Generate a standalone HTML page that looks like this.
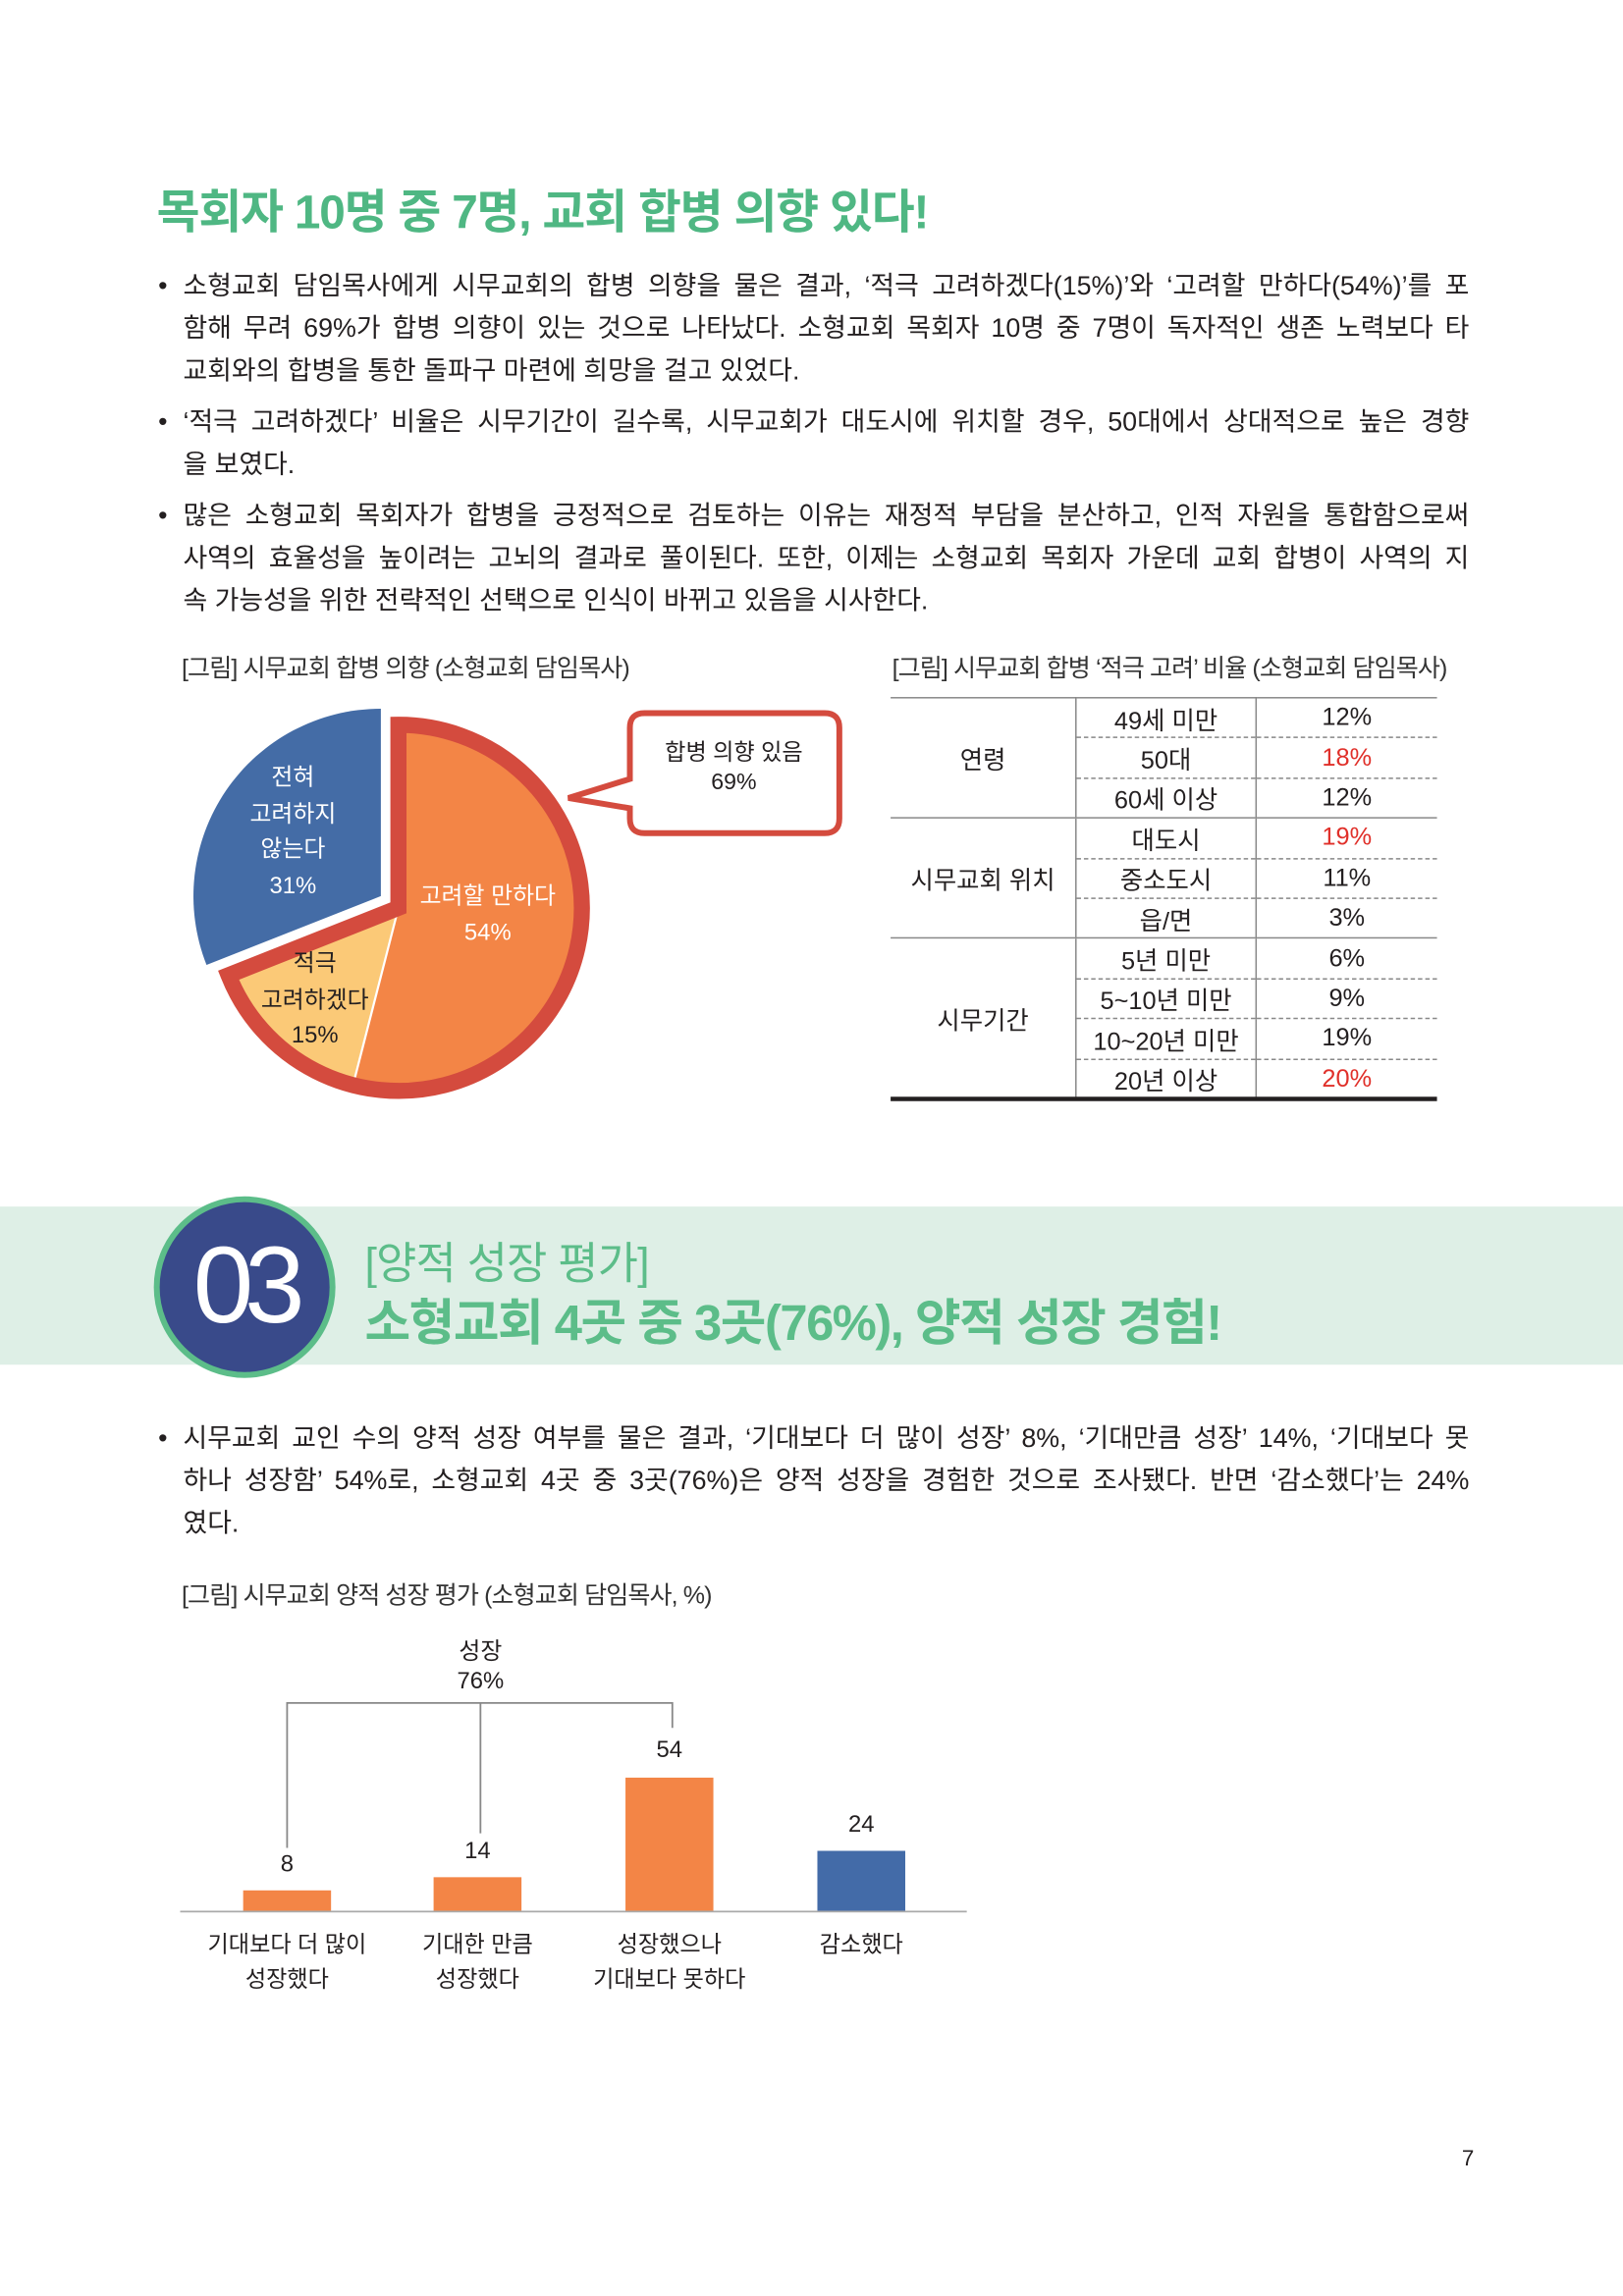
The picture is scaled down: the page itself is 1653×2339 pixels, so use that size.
<!DOCTYPE html>
<html><head><meta charset="utf-8">
<style>
html,body{margin:0;padding:0;background:#fff;}
body{width:1653px;height:2339px;overflow:hidden;position:relative;}
#w{position:absolute;left:0;top:0;width:1108px;height:1568px;transform:scale(1.4919,1.4917);transform-origin:0 0;font-family:"Liberation Sans","Noto Sans CJK KR",sans-serif;color:#231f20;}
.a{position:absolute;white-space:nowrap;}
.p{position:absolute;left:108px;width:895px;font-size:18px;line-height:29px;letter-spacing:0px;}
.p .b{position:absolute;left:0;}
.p div{padding-left:17px;}
.p div span{display:block;white-space:nowrap;text-align:justify;text-align-last:justify;}
.p div span.l{text-align-last:left;}
.cap{font-size:16.8px;letter-spacing:-0.6px;color:#333;}
table{border-collapse:collapse;position:absolute;left:608px;top:476px;width:373px;font-size:17px;}
td{height:26.4px;padding:0;text-align:center;border-right:1px solid #888;}
td:last-child{border-right:none;}
tr.g td{border-top:1.5px solid #888;}
tr.d td.s{border-top:1px dashed #888;}
.r{color:#e0302a;}
</style></head><body><div id="w">
<div class="a" style="left:107px;top:120px;font-size:32px;font-weight:bold;color:#4fb783;letter-spacing:-0.8px;">목회자 10명 중 7명, 교회 합병 의향 있다!</div>

<div class="p" style="top:181px;"><span class="b">•</span><div><span>소형교회 담임목사에게 시무교회의 합병 의향을 물은 결과, ‘적극 고려하겠다(15%)’와 ‘고려할 만하다(54%)’를 포</span><span>함해 무려 69%가 합병 의향이 있는 것으로 나타났다. 소형교회 목회자 10명 중 7명이 독자적인 생존 노력보다 타</span><span class="l">교회와의 합병을 통한 돌파구 마련에 희망을 걸고 있었다.</span></div></div>
<div class="p" style="top:274px;"><span class="b">•</span><div><span>‘적극 고려하겠다’ 비율은 시무기간이 길수록, 시무교회가 대도시에 위치할 경우, 50대에서 상대적으로 높은 경향</span><span class="l">을 보였다.</span></div></div>
<div class="p" style="top:338px;"><span class="b">•</span><div><span>많은 소형교회 목회자가 합병을 긍정적으로 검토하는 이유는 재정적 부담을 분산하고, 인적 자원을 통합함으로써</span><span>사역의 효율성을 높이려는 고뇌의 결과로 풀이된다. 또한, 이제는 소형교회 목회자 가운데 교회 합병이 사역의 지</span><span class="l">속 가능성을 위한 전략적인 선택으로 인식이 바뀌고 있음을 시사한다.</span></div></div>

<div class="a cap" style="left:124px;top:443px;">[그림] 시무교회 합병 의향 (소형교회 담임목사)</div>
<div class="a cap" style="left:609px;top:443px;">[그림] 시무교회 합병 ‘적극 고려’ 비율 (소형교회 담임목사)</div>

<svg class="a" style="left:0;top:0" width="700" height="800" viewBox="0 0 700 800">
<path d="M272,620 L272,495 A125,125 0 1,1 241,741 Z" fill="#f38546"/>
<path d="M272,620 L241,741 A125,125 0 0,1 156,666 Z" fill="#fbc977"/>
<line x1="272" y1="620" x2="241" y2="741" stroke="#fff" stroke-width="1.5"/>
<path d="M272,620 L272,495 A125,125 0 1,1 156,666 Z" fill="none" stroke="#d44b3e" stroke-width="11" stroke-linejoin="miter"/>
<path d="M260,612 L260,484 A128,128 0 0,0 141,659 Z" fill="#446ca6"/>
<path d="M440,487 L563,487 Q573,487 573,497 L573,559 Q573,569 563,569 L440,569 Q430,569 430,559 L430,552 L388,545 L430,532 L430,497 Q430,487 440,487 Z" fill="#fff" stroke="#d44b3e" stroke-width="4" stroke-linejoin="miter"/>
</svg>
<div class="a" style="left:140px;top:520px;width:120px;text-align:center;color:#fff;font-size:16px;line-height:24.5px;">전혀<br>고려하지<br>않는다<br>31%</div>
<div class="a" style="left:273px;top:601px;width:120px;text-align:center;color:#fff;font-size:16px;line-height:24.5px;">고려할 만하다<br>54%</div>
<div class="a" style="left:160px;top:647px;width:110px;text-align:center;color:#231f20;font-size:16px;line-height:24.5px;">적극<br>고려하겠다<br>15%</div>
<div class="a" style="left:432px;top:505px;width:138px;text-align:center;font-size:15.5px;line-height:20px;">합병 의향 있음<br>69%</div>

<table>
<tr class="g"><td rowspan="3" style="width:126px">연령</td><td style="width:122px">49세 미만</td><td>12%</td></tr>
<tr class="d"><td class="s">50대</td><td class="s r">18%</td></tr>
<tr class="d"><td class="s">60세 이상</td><td class="s">12%</td></tr>
<tr class="g"><td rowspan="3">시무교회 위치</td><td>대도시</td><td class="r">19%</td></tr>
<tr class="d"><td class="s">중소도시</td><td class="s">11%</td></tr>
<tr class="d"><td class="s">읍/면</td><td class="s">3%</td></tr>
<tr class="g"><td rowspan="4">시무기간</td><td>5년 미만</td><td>6%</td></tr>
<tr class="d"><td class="s">5~10년 미만</td><td class="s">9%</td></tr>
<tr class="d"><td class="s">10~20년 미만</td><td class="s">19%</td></tr>
<tr class="d"><td class="s">20년 이상</td><td class="s r">20%</td></tr>
</table>
<div class="a" style="left:608px;top:749px;width:373px;height:3px;background:#231f20;"></div>

<div class="a" style="left:0;top:824px;width:1108px;height:108px;background:#deefe6;"></div>
<div class="a" style="left:105px;top:817px;width:116px;height:116px;border-radius:50%;background:#394a8a;border:4px solid #5cbd89;"></div>
<div class="a" style="left:105px;top:834px;width:124px;text-align:center;color:#fff;font-size:74px;letter-spacing:-6px;line-height:88px;">03</div>
<div class="a" style="left:249px;top:838px;font-size:30px;color:#5cbd89;letter-spacing:-0.5px;">[양적 성장 평가]</div>
<div class="a" style="left:249px;top:876px;font-size:34px;font-weight:bold;color:#5cbd89;letter-spacing:-1px;">소형교회 4곳 중 3곳(76%), 양적 성장 경험!</div>

<div class="p" style="top:968px;"><span class="b">•</span><div><span>시무교회 교인 수의 양적 성장 여부를 물은 결과, ‘기대보다 더 많이 성장’ 8%, ‘기대만큼 성장’ 14%, ‘기대보다 못</span><span>하나 성장함’ 54%로, 소형교회 4곳 중 3곳(76%)은 양적 성장을 경험한 것으로 조사됐다. 반면 ‘감소했다’는 24%</span><span class="l">였다.</span></div></div>
<div class="a cap" style="left:124px;top:1076px;">[그림] 시무교회 양적 성장 평가 (소형교회 담임목사, %)</div>

<svg class="a" style="left:0;top:0" width="700" height="1400" viewBox="0 0 700 1400">
<path d="M196,1262 L196,1163 L459,1163 L459,1180 M328,1163 L328,1252" fill="none" stroke="#888" stroke-width="1.2"/>
<rect x="166" y="1291" width="60" height="14" fill="#f38546"/>
<rect x="296" y="1282" width="60" height="23" fill="#f38546"/>
<rect x="427" y="1214" width="60" height="91" fill="#f38546"/>
<rect x="558" y="1264" width="60" height="41" fill="#436ba8"/>
<line x1="123" y1="1305.5" x2="660" y2="1305.5" stroke="#aaa" stroke-width="1.2"/>
</svg>
<div class="a" style="left:278px;top:1119px;width:100px;text-align:center;font-size:16px;line-height:20px;">성장<br>76%</div>
<div class="a" style="left:166px;top:1265px;width:60px;text-align:center;font-size:16px;">8</div>
<div class="a" style="left:296px;top:1256px;width:60px;text-align:center;font-size:16px;">14</div>
<div class="a" style="left:427px;top:1187px;width:60px;text-align:center;font-size:16px;">54</div>
<div class="a" style="left:558px;top:1238px;width:60px;text-align:center;font-size:16px;">24</div>
<div class="a" style="left:126px;top:1317px;width:140px;text-align:center;font-size:15.5px;line-height:24px;">기대보다 더 많이<br>성장했다</div>
<div class="a" style="left:256px;top:1317px;width:140px;text-align:center;font-size:15.5px;line-height:24px;">기대한 만큼<br>성장했다</div>
<div class="a" style="left:387px;top:1317px;width:140px;text-align:center;font-size:15.5px;line-height:24px;">성장했으나<br>기대보다 못하다</div>
<div class="a" style="left:518px;top:1317px;width:140px;text-align:center;font-size:15.5px;line-height:24px;">감소했다</div>

<div class="a" style="left:998px;top:1466px;font-size:15px;">7</div>
</div></body></html>
